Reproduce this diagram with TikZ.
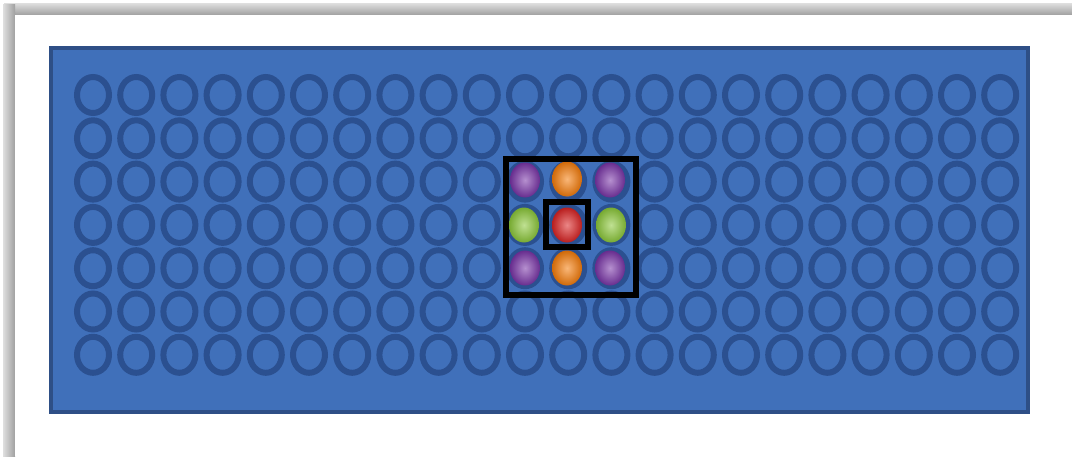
\documentclass[tikz,border=0pt]{standalone}
\usetikzlibrary{shadings,shapes.geometric}
\definecolor{bluefill}{HTML}{4070BA}
\definecolor{blueedge}{HTML}{2E4F86}
\definecolor{ringc}{HTML}{2B5090}
\definecolor{ballpurple}{HTML}{7A35A8}
\definecolor{ballorange}{HTML}{F57C0A}
\definecolor{ballgreen}{HTML}{8CC83A}
\definecolor{ballred}{HTML}{DA2424}
\tikzset{
  ring/.style={draw=ringc, line width=6pt, x radius=16pt, y radius=18pt},
  ball/.style={ellipse, minimum width=30pt, minimum height=35pt, inner sep=0pt,
    inner color=#1!55!white, outer color=#1!85!black},
  frame/.style={draw=black, line width=6pt},
}
\begin{document}
\begin{tikzpicture}[x=1pt,y=-1pt]
\useasboundingbox (0,0) rectangle (1072,456);
\fill[white] (0,0) rectangle (1072,456);
% shadow bands
\shade[top color=gray!25, bottom color=gray!75] (4,3) rectangle (1072,15);
\shade[left color=gray!25, right color=gray!75] (3,4) rectangle (15,456);
\fill[white] (15,15) rectangle (1072,456);
% board
\node[draw=blueedge, fill=bluefill, line width=4pt, minimum width=977pt, minimum height=364pt, inner sep=0pt, anchor=north west] (board) at (49,46) {};
% rings
\begin{scope}
\clip (board.north west) rectangle (1025,410);
\foreach \r in {0,...,6}{
  \foreach \c in {0,...,21}{
    \draw[ring] (93+43.2*\c, 95+43.3*\r) ellipse [];
  }
}
\end{scope}
% balls
\node[ball=ballpurple] (b11) at (525,180) {};
\node[ball=ballorange] (b12) at (567,179) {};
\node[ball=ballpurple] (b13) at (610,180) {};
\node[ball=ballgreen] (b21) at (524,225) {};
\node[ball=ballred] (b22) at (567,225) {};
\node[ball=ballgreen] (b23) at (611,225) {};
\node[ball=ballpurple] (b31) at (525,268) {};
\node[ball=ballorange] (b32) at (567,268) {};
\node[ball=ballpurple] (b33) at (610,268) {};
% frames
\node[frame, minimum width=130pt, minimum height=136pt, inner sep=0pt] (outer) at (571,226.5) {};
\node[frame, minimum width=42pt, minimum height=45pt, inner sep=0pt] (inner) at (567,224.5) {};
\end{tikzpicture}
\end{document}
